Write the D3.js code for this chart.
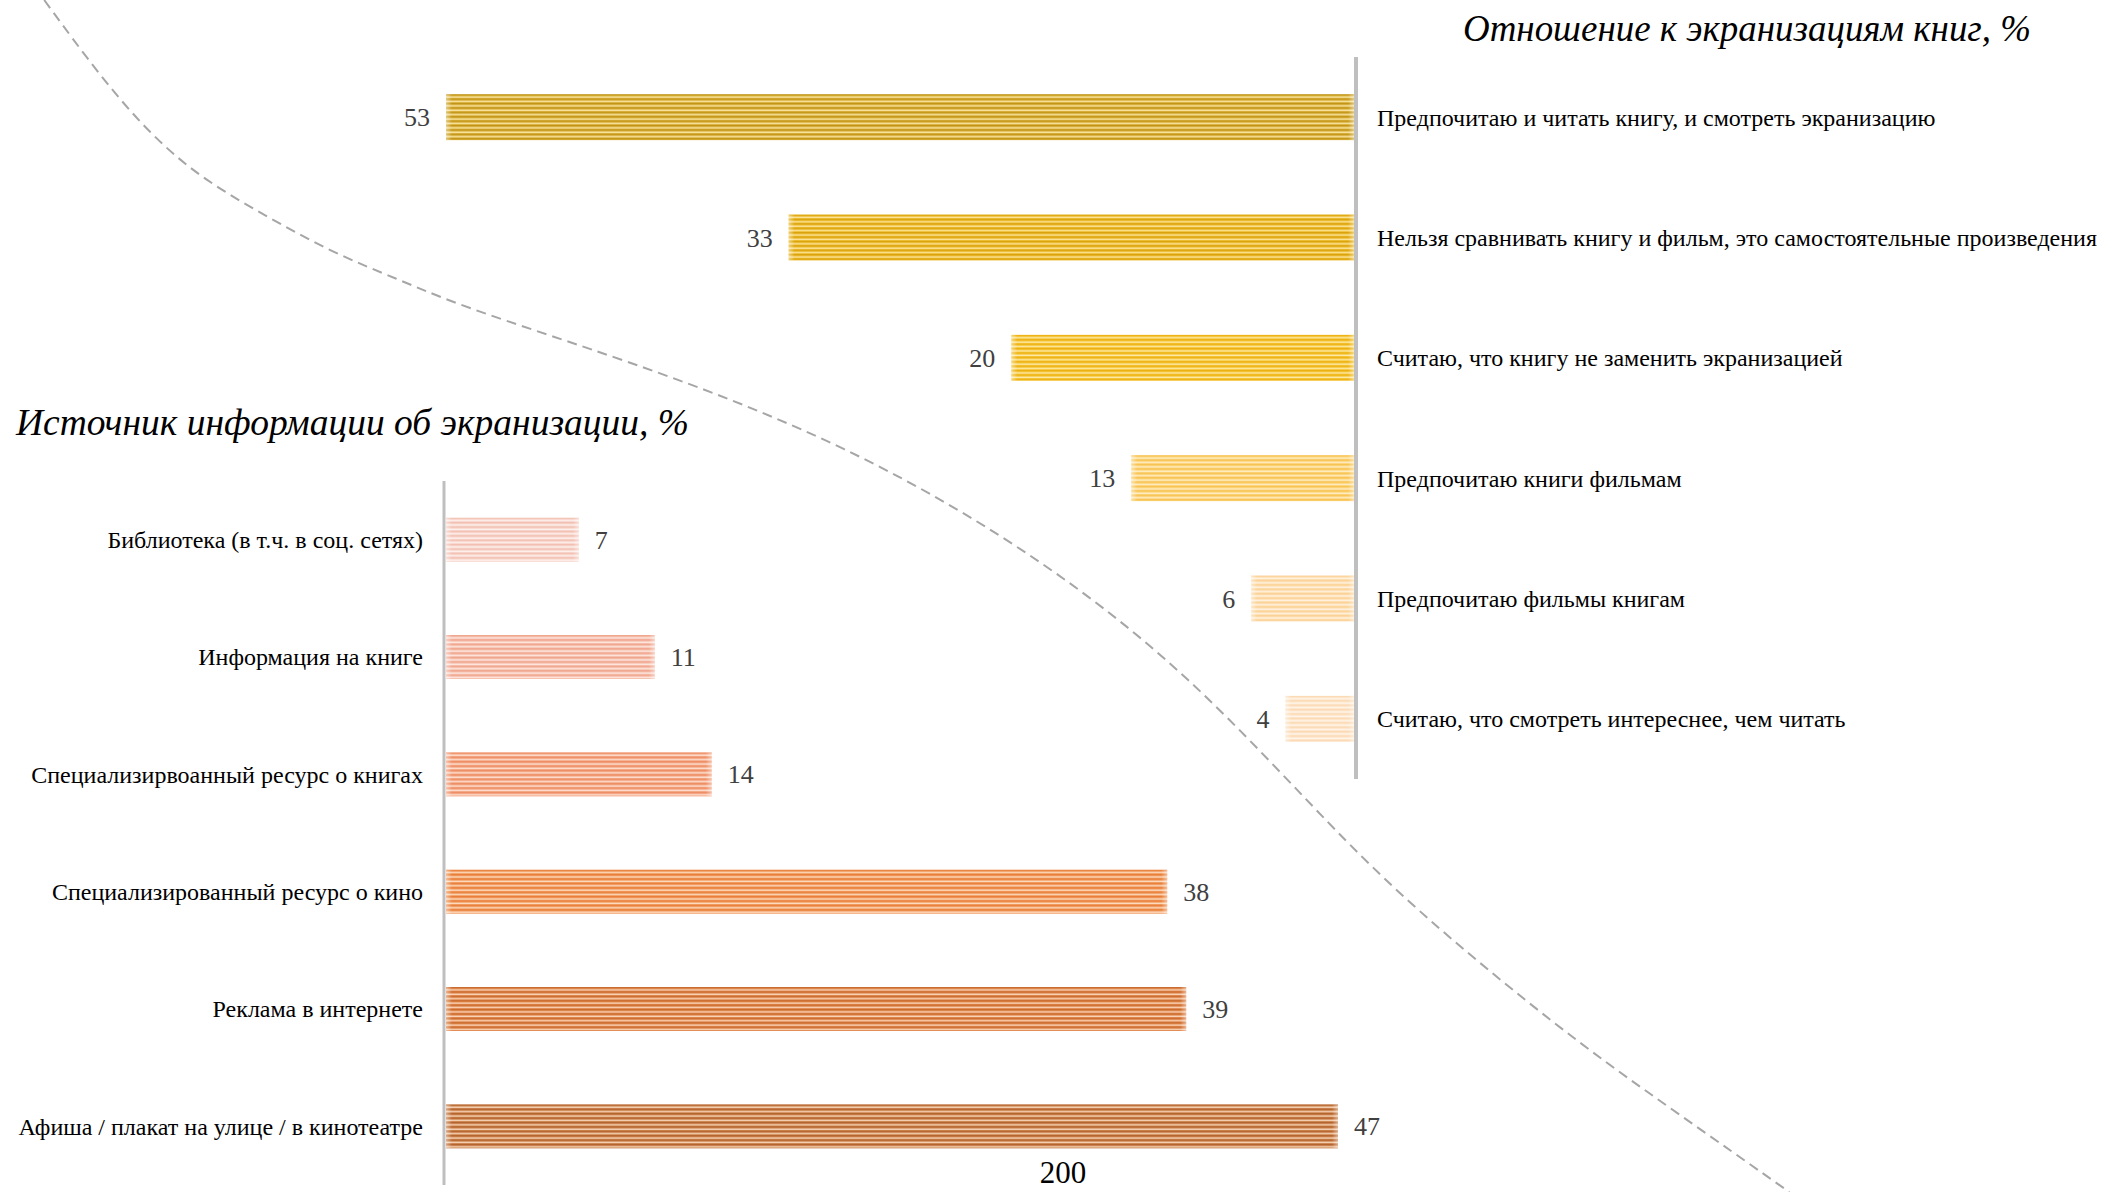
<!DOCTYPE html>
<html>
<head>
<meta charset="utf-8">
<script src="https://cdn.jsdelivr.net/npm/d3@7"></script>
<style>
  body { margin: 0; background: #fff; }
  text { font-family: "Liberation Serif", "Times New Roman", serif; }
</style>
</head>
<body>
<script>
// canvas
var width = 2105, height = 1192;

// top chart: attitude to screen adaptations
var topCats = ["Предпочитаю и читать книгу, и смотреть экранизацию",
               "Нельзя сравнивать книгу и фильм, это самостоятельные произведения",
               "Считаю, что книгу не заменить экранизацией",
               "Предпочитаю книги фильмам",
               "Предпочитаю фильмы книгам",
               "Считаю, что смотреть интереснее, чем читать"];
var topVals = [53, 33, 20, 13, 6, 4];
var topColors = [["#d8ae36", "#bf9316", "#f8e3a0"],
                 ["#ebb826", "#d9a20c", "#fce39a"],
                 ["#f6c42e", "#ebb012", "#fde8a8"],
                 ["#fcd274", "#f7c250", "#feecc2"],
                 ["#fdddae", "#fbd194", "#fff2e0"],
                 ["#fde5c8", "#fbd9b4", "#fff4e8"]];

// bottom chart: information source
var botCats = ["Библиотека (в т.ч. в соц. сетях)",
               "Информация на книге",
               "Специализирвоанный ресурс о книгах",
               "Специализированный ресурс о кино",
               "Реклама в интернете",
               "Афиша / плакат на улице / в кинотеатре"];
var botVals = [7, 11, 14, 38, 39, 47];
var botColors = [["#f7d2c8", "#f2bfb2", "#fdf0ec"],
                 ["#f5bba8", "#f0a48c", "#fde6de"],
                 ["#f3a37f", "#ee8c64", "#fddfd0"],
                 ["#f09656", "#e87e3a", "#fcdbc0"],
                 ["#df8246", "#c96b2e", "#f9d4b8"],
                 ["#cb7e48", "#b2632c", "#f5d4b8"]];

var topTitle = "Отношение к экранизациям книг, %";
var botTitle = "Источник информации об экранизации, %";
var footLabel = "200";

// dashed divider, in fractions of the canvas
var dividerX = [0.021, 0.048, 0.071, 0.095, 0.127, 0.158, 0.19, 0.21, 0.238, 0.319, 0.401, 0.483, 0.565, 0.643, 0.697, 0.752, 0.797, 0.85];
var dividerY = [0, 0.065, 0.112, 0.149, 0.182, 0.212, 0.235, 0.25, 0.268, 0.315, 0.373, 0.454, 0.563, 0.716, 0.8, 0.878, 0.934, 1.0];

var svg = d3.select("body").append("svg")
    .attr("width", width)
    .attr("height", height);

var defs = svg.append("defs");

// gloss at bar ends
var gl = defs.append("linearGradient").attr("id", "glossL");
gl.append("stop").attr("offset", "0").attr("stop-color", "#fff").attr("stop-opacity", 0.45);
gl.append("stop").attr("offset", "1").attr("stop-color", "#fff").attr("stop-opacity", 0);
var gr = defs.append("linearGradient").attr("id", "glossR");
gr.append("stop").attr("offset", "0").attr("stop-color", "#fff").attr("stop-opacity", 0);
gr.append("stop").attr("offset", "1").attr("stop-color", "#fff").attr("stop-opacity", 0.45);

var period = 4.4;
function stripes(id, cols, top) {
    var p = defs.append("pattern")
        .attr("id", id)
        .attr("patternUnits", "userSpaceOnUse")
        .attr("x", 0).attr("y", top)
        .attr("width", 10).attr("height", period);
    p.append("rect").attr("width", 10).attr("height", period).attr("fill", cols[0]);
    p.append("rect").attr("width", 10).attr("height", 1.2).attr("fill", cols[1]);
    p.append("rect").attr("y", 2.2).attr("width", 10).attr("height", 1.4).attr("fill", cols[2]);
    return "url(#" + id + ")";
}

// scales
var yTop = d3.scaleBand().domain(topCats).range([57, 779]);
var xTop = d3.scaleLinear().domain([0, 53]).range([1354, 446]);
var yBot = d3.scaleBand().domain(botCats).range([481, 1185]);
var xBot = d3.scaleLinear().domain([0, 47]).range([446, 1338]);
var barH = 46, barHB = 44;

var xd = d3.scaleLinear().domain([0, 1]).range([0, width]);
var yd = d3.scaleLinear().domain([0, 1]).range([0, height]);

// divider curve
var line = d3.line()
    .x(function(d) { return xd(d[0]); })
    .y(function(d) { return yd(d[1]); })
    .curve(d3.curveBasis);
svg.append("path")
    .attr("d", line(dividerX.map(function(x, i) { return [x, dividerY[i]]; })))
    .attr("fill", "none")
    .attr("stroke", "#a6a6a6")
    .attr("stroke-width", 2)
    .attr("stroke-dasharray", "10,6");

// ---- top chart ----
var gT = svg.append("g");
topCats.forEach(function(c, i) {
    var yc = yTop(c) + yTop.bandwidth() / 2;
    var x0 = xTop(topVals[i]), x1 = xTop(0);
    var top = yc - barH / 2;
    gT.append("rect")
        .attr("x", x0).attr("y", top)
        .attr("width", x1 - x0).attr("height", barH)
        .attr("fill", stripes("pt" + i, topColors[i], top));
    gT.append("rect").attr("x", x0).attr("y", top).attr("width", 6).attr("height", barH).attr("fill", "url(#glossL)");
    gT.append("rect").attr("x", x1 - 6).attr("y", top).attr("width", 6).attr("height", barH).attr("fill", "url(#glossR)");
    gT.append("text")
        .attr("x", x0 - 16).attr("y", yc).attr("dy", "0.35em")
        .attr("text-anchor", "end")
        .attr("font-size", 26).attr("fill", "#404040")
        .text(topVals[i]);
    gT.append("text")
        .attr("x", 1377).attr("y", yc).attr("dy", "0.35em")
        .attr("font-size", 24).attr("fill", "#000")
        .text(c);
});
gT.append("line")
    .attr("x1", 1356).attr("x2", 1356)
    .attr("y1", yTop.range()[0]).attr("y2", yTop.range()[1])
    .attr("stroke", "#bfbfbf").attr("stroke-width", 4);

svg.append("text")
    .attr("x", 1463).attr("y", 41)
    .attr("font-size", 38).attr("font-style", "italic")
    .attr("textLength", 568).attr("lengthAdjust", "spacingAndGlyphs")
    .text(topTitle);

// ---- bottom chart ----
var gB = svg.append("g");
botCats.forEach(function(c, i) {
    var yc = yBot(c) + yBot.bandwidth() / 2;
    var x0 = xBot(0), x1 = xBot(botVals[i]);
    var top = yc - barHB / 2;
    gB.append("rect")
        .attr("x", x0).attr("y", top)
        .attr("width", x1 - x0).attr("height", barHB)
        .attr("fill", stripes("pb" + i, botColors[i], top));
    gB.append("rect").attr("x", x0).attr("y", top).attr("width", 6).attr("height", barHB).attr("fill", "url(#glossL)");
    gB.append("rect").attr("x", x1 - 6).attr("y", top).attr("width", 6).attr("height", barHB).attr("fill", "url(#glossR)");
    gB.append("text")
        .attr("x", x1 + 16).attr("y", yc).attr("dy", "0.35em")
        .attr("font-size", 26).attr("fill", "#404040")
        .text(botVals[i]);
    gB.append("text")
        .attr("x", 423).attr("y", yc).attr("dy", "0.35em")
        .attr("text-anchor", "end")
        .attr("font-size", 24).attr("fill", "#000")
        .text(c);
});
gB.append("line")
    .attr("x1", 444).attr("x2", 444)
    .attr("y1", yBot.range()[0]).attr("y2", yBot.range()[1])
    .attr("stroke", "#bfbfbf").attr("stroke-width", 3);

svg.append("text")
    .attr("x", 16).attr("y", 435)
    .attr("font-size", 38).attr("font-style", "italic")
    .attr("textLength", 673).attr("lengthAdjust", "spacingAndGlyphs")
    .text(botTitle);

svg.append("text")
    .attr("x", 1063).attr("y", 1183)
    .attr("text-anchor", "middle")
    .attr("font-size", 31).attr("fill", "#000")
    .text(footLabel);
</script>
</body>
</html>
